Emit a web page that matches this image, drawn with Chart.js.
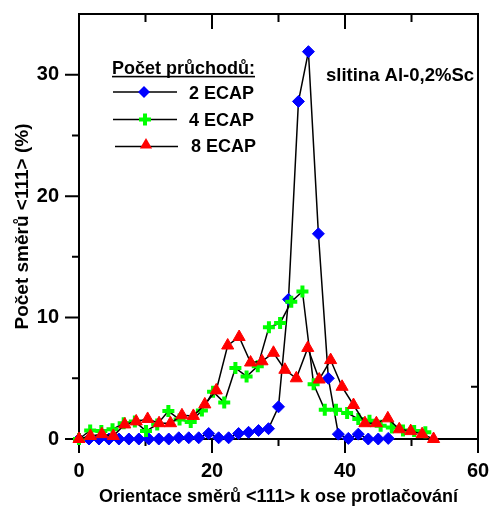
<!DOCTYPE html>
<html>
<head>
<meta charset="utf-8">
<script src="https://cdn.jsdelivr.net/npm/chart.js@4.4.1/dist/chart.umd.min.js"></script>
<style>
html, body { margin: 0; padding: 0; background: #fff; }
</style>
</head>
<body>
<canvas id="orientChart" width="489" height="506"></canvas>
<script>
// angle of <111> directions to the extrusion axis (deg) and share of directions (%)
var angles2 = [0, 1.5, 3, 4.5, 6, 7.5, 9, 10.5, 12, 13.5, 15, 16.5, 18, 19.5, 21, 22.5,
               24, 25.5, 27, 28.5, 30, 31.5, 33, 34.5, 36, 37.5, 39, 40.5, 42, 43.5, 45, 46.5];
var ecap2 = [0, 0, 0, 0, 0, 0, 0, 0, 0, 0, 0.1, 0.1, 0.1, 0.45, 0.1, 0.1,
             0.45, 0.55, 0.7, 0.85, 2.65, 11.5, 27.8, 31.9, 16.9, 5.0, 0.4, 0.05, 0.4, 0, 0, 0.05];

var angles4 = [0, 1.68, 3.36, 5.04, 6.72, 8.4, 10.08, 11.76, 13.44, 15.12, 16.8, 18.48, 20.16, 21.84, 23.52, 25.2,
               26.88, 28.56, 30.24, 31.92, 33.6, 35.28, 36.96, 38.64, 40.32, 42, 43.68, 45.36, 47.04, 48.72, 50.4, 52.08];
var ecap4 = [0, 0.7, 0.65, 0.8, 1.3, 1.45, 0.65, 1.2, 2.3, 1.6, 1.4, 2.35, 3.9, 3.0, 5.85, 5.15,
             6.0, 9.2, 9.55, 11.3, 12.15, 4.5, 2.4, 2.4, 2.15, 1.65, 1.5, 1.1, 0.95, 0.7, 0.65, 0.55];

var angles8 = [0, 1.72, 3.44, 5.16, 6.88, 8.6, 10.32, 12.04, 13.76, 15.48, 17.2, 18.92, 20.64, 22.36, 24.08, 25.8,
               27.52, 29.24, 30.96, 32.68, 34.4, 36.12, 37.84, 39.56, 41.28, 43, 44.72, 46.44, 48.16, 49.88, 51.6, 53.32];
var ecap8 = [0, 0.25, 0.4, 0.25, 1.2, 1.45, 1.65, 1.3, 1.3, 1.95, 1.9, 2.85, 4.0, 7.7, 8.4, 6.3,
             6.4, 7.1, 5.7, 5.0, 7.5, 4.9, 6.5, 4.3, 2.8, 1.3, 1.3, 1.7, 0.8, 0.65, 0.4, 0];

var seriesNames = ['2 ECAP', '4 ECAP', '8 ECAP'];
var xMarks = [0, 10, 20, 30, 40, 50, 60];
var yMarks = [0, 5, 10, 15, 20, 25, 30];

var FONT = '"Liberation Sans", Arial, sans-serif';

function toPoints(xs, ys) {
    return xs.map(function (v, i) { return { x: v, y: ys[i] }; });
}

function marker(ctx, style, x, y) {
    ctx.save();
    if (style === 'rectRot') {
        ctx.fillStyle = '#0000ff';
        ctx.beginPath();
        ctx.moveTo(x - 6, y); ctx.lineTo(x, y - 6); ctx.lineTo(x + 6, y); ctx.lineTo(x, y + 6);
        ctx.closePath(); ctx.fill();
    } else if (style === 'cross') {
        ctx.strokeStyle = '#00ff00'; ctx.lineWidth = 4;
        ctx.beginPath();
        ctx.moveTo(x - 6, y); ctx.lineTo(x + 6, y);
        ctx.moveTo(x, y - 6); ctx.lineTo(x, y + 6);
        ctx.stroke();
    } else {
        ctx.fillStyle = '#ff0000';
        ctx.beginPath();
        ctx.moveTo(x, y - 7); ctx.lineTo(x + 6.1, y + 3.5); ctx.lineTo(x - 6.1, y + 3.5);
        ctx.closePath(); ctx.fill();
    }
    ctx.restore();
}

// scales keep a fixed size, no extra room for overhanging labels
function fixedBox(w, h) {
    return function (s) {
        if (w) s.width = w;
        if (h) s.height = h;
        s.paddingTop = 0; s.paddingBottom = 0; s.paddingLeft = 0; s.paddingRight = 0;
    };
}

// box round the plot with inner/outer tick marks
var frame = {
    id: 'frame',
    beforeDatasetsDraw: function (chart) {
        var ctx = chart.ctx, a = chart.chartArea, x = chart.scales.x, y = chart.scales.y;
        ctx.save();
        ctx.strokeStyle = '#000';
        ctx.lineWidth = 2;
        ctx.strokeRect(a.left, a.top, a.right - a.left, a.bottom - a.top);
        ctx.beginPath();
        xMarks.forEach(function (v) {
            var px = x.getPixelForValue(v), major = v % 20 === 0;
            ctx.moveTo(px, a.bottom); ctx.lineTo(px, a.bottom + (major ? 14 : 7));
            if (v > 0 && v < 60) { ctx.moveTo(px, a.top); ctx.lineTo(px, a.top + (major ? 15 : 8)); }
        });
        yMarks.forEach(function (v) {
            var py = y.getPixelForValue(v), major = v % 10 === 0;
            ctx.moveTo(a.left, py); ctx.lineTo(a.left - (major ? 14 : 7), py);
        });
        var ry = y.getPixelForValue(4.3);
        ctx.moveTo(a.right, ry); ctx.lineTo(a.right - 7, ry);
        ctx.stroke();
        ctx.restore();
    },
    afterDraw: function (chart) {
        var ctx = chart.ctx;
        ctx.save();
        ctx.fillStyle = '#000';
        ctx.textBaseline = 'alphabetic';
        ctx.font = 'bold 18px ' + FONT;
        ctx.fillText('Počet průchodů:', 112, 74);
        var w = ctx.measureText('Počet průchodů:').width;
        ctx.fillRect(112, 75.8, w, 1.6);

        var rows = [
            { y: 92, ty: 98.5, tx: 189, style: 'rectRot', mx: 144 },
            { y: 119.5, ty: 126, tx: 189, style: 'cross', mx: 145 },
            { y: 146.5, ty: 151.5, tx: 191, style: 'triangle', mx: 146 }
        ];
        rows.forEach(function (r, i) {
            ctx.strokeStyle = '#000';
            ctx.lineWidth = 1.5;
            ctx.beginPath();
            ctx.moveTo(113 + (i === 2 ? 2 : 0), r.y); ctx.lineTo(177 + (i === 2 ? 1 : 0), r.y);
            ctx.stroke();
            marker(ctx, r.style, r.mx, i === 2 ? r.y - 1.5 : r.y);
            ctx.fillText(seriesNames[i], r.tx, r.ty);
        });

        ctx.font = 'bold 18.5px ' + FONT;
        ctx.fillText('slitina Al-0,2%Sc', 326, 81);
        ctx.restore();
    }
};

function lineSet(label, xs, ys, style, color, radius, bw, order) {
    return {
        label: label,
        data: toPoints(xs, ys),
        showLine: true,
        borderColor: '#000',
        borderWidth: 1.5,
        tension: 0,
        pointStyle: style,
        pointRadius: radius,
        pointBackgroundColor: color,
        pointBorderColor: color,
        pointBorderWidth: bw,
        clip: false,
        order: order
    };
}

new Chart(document.getElementById('orientChart'), {
    type: 'line',
    data: {
        datasets: [
            lineSet(seriesNames[0], angles2, ecap2, 'rectRot', '#0000ff', 6, 1, 3),
            lineSet(seriesNames[1], angles4, ecap4, 'cross', '#00ff00', 6, 4, 2),
            lineSet(seriesNames[2], angles8, ecap8, 'triangle', '#ff0000', 7, 1, 1)
        ]
    },
    options: {
        responsive: false,
        animation: false,
        layout: { padding: { top: 14, right: 11, left: 0, bottom: 0 } },
        plugins: { legend: { display: false }, tooltip: { enabled: false } },
        scales: {
            x: {
                type: 'linear',
                min: 0, max: 60,
                grid: { display: false, drawTicks: false },
                border: { display: false },
                ticks: { stepSize: 20, padding: 20, color: '#000', font: { family: FONT, size: 20, weight: 'bold' } },
                title: {
                    display: true,
                    text: 'Orientace směrů <111> k ose protlačování',
                    color: '#000',
                    padding: { top: 0, bottom: 0 },
                    font: { family: FONT, size: 18, weight: 'bold', lineHeight: 1 }
                },
                afterFit: fixedBox(0, 67)
            },
            y: {
                min: 0, max: 35,
                grid: { display: false, drawTicks: false },
                border: { display: false },
                ticks: {
                    stepSize: 10, includeBounds: false, padding: 20, color: '#000',
                    font: { family: FONT, size: 20, weight: 'bold' },
                    callback: function (v) { return v % 10 === 0 ? v : ''; }
                },
                title: {
                    display: true,
                    text: 'Počet směrů <111> (%)',
                    color: '#000',
                    padding: { top: 13, bottom: 0 },
                    font: { family: FONT, size: 19, weight: 'bold', lineHeight: 1 }
                },
                afterFit: fixedBox(79, 0)
            }
        }
    },
    plugins: [frame]
});
</script>
</body>
</html>
